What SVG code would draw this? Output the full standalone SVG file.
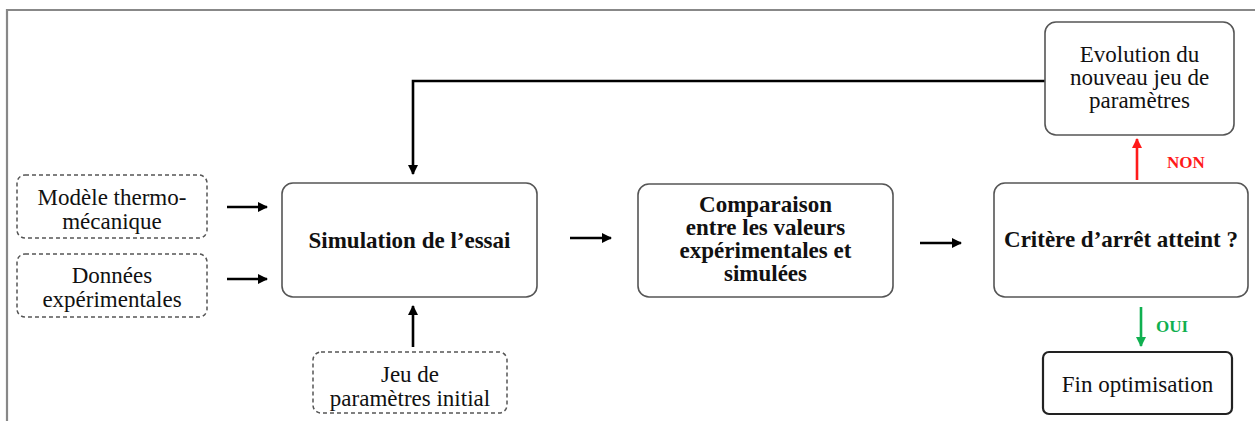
<svg xmlns="http://www.w3.org/2000/svg" width="1255" height="421" viewBox="0 0 1255 421">
<style>
.t{font-family:"Liberation Serif","Times New Roman",serif;font-size:23px;fill:#111;text-anchor:middle}
.b{font-weight:bold}
.box{fill:#fff;stroke:#555;stroke-width:1.6}
.dash{fill:#fff;stroke:#555;stroke-width:1.5;stroke-dasharray:4 3}
.fin{fill:#fff;stroke:#222;stroke-width:2.2}
.c{fill:none;stroke:#000;stroke-width:2.6}
.lbl{font-family:"Liberation Serif","Times New Roman",serif;font-size:17px;font-weight:bold}
</style>
<defs>
<marker id="ah" markerUnits="userSpaceOnUse" markerWidth="12" markerHeight="12" refX="9" refY="5" orient="auto">
<path d="M0,0 L10,5 L0,10 Z" fill="#000"/>
</marker>
<marker id="ahr" markerUnits="userSpaceOnUse" markerWidth="12" markerHeight="12" refX="9" refY="5" orient="auto">
<path d="M0,0 L10,5 L0,10 Z" fill="#ff1a1a"/>
</marker>
<marker id="ahg" markerUnits="userSpaceOnUse" markerWidth="12" markerHeight="12" refX="9" refY="5" orient="auto">
<path d="M0,0 L10,5 L0,10 Z" fill="#10b050"/>
</marker>
</defs>
<rect width="1255" height="421" fill="#fff"/>
<path d="M7,421 V10 H1255" fill="none" stroke="#888" stroke-width="2.2"/>

<g id="connectors">
<line class="c" x1="227" y1="207" x2="267" y2="207" marker-end="url(#ah)"/>
<line class="c" x1="227" y1="279" x2="267" y2="279" marker-end="url(#ah)"/>
<line class="c" x1="413" y1="347" x2="413" y2="306" marker-end="url(#ah)"/>
<polyline class="c" points="1045,81 413,81 413,174" marker-end="url(#ah)"/>
<line class="c" x1="570" y1="238" x2="611" y2="238" marker-end="url(#ah)"/>
<line class="c" x1="920" y1="243" x2="961" y2="243" marker-end="url(#ah)"/>
<line x1="1137" y1="180" x2="1137" y2="139" stroke="#ff1a1a" stroke-width="2.6" marker-end="url(#ahr)"/>
<line x1="1141" y1="307" x2="1141" y2="346" stroke="#10b050" stroke-width="2.6" marker-end="url(#ahg)"/>
<text class="lbl" x="1167" y="168" fill="#ff1a1a">NON</text>
<text class="lbl" x="1156" y="332" fill="#10b050">OUI</text>
</g>

<g id="modele">
<rect class="dash" x="17" y="175" width="190" height="63" rx="8"/>
<text class="t" x="112" y="205">Modèle thermo-</text>
<text class="t" x="112" y="229">mécanique</text>
</g>
<g id="donnees">
<rect class="dash" x="17" y="254" width="190" height="63" rx="8"/>
<text class="t" x="112" y="283">Données</text>
<text class="t" x="112" y="307">expérimentales</text>
</g>
<g id="simulation">
<rect class="box" x="282" y="183" width="255" height="114" rx="11"/>
<text class="t b" x="409.5" y="248">Simulation de l’essai</text>
</g>
<g id="jeu">
<rect class="dash" x="313" y="352" width="194" height="61" rx="8"/>
<text class="t" x="410" y="382">Jeu de</text>
<text class="t" x="410" y="406">paramètres initial</text>
</g>
<g id="comparaison">
<rect class="box" x="638" y="184" width="255" height="113" rx="11"/>
<text class="t b" x="765.5" y="212">Comparaison</text>
<text class="t b" x="765.5" y="235">entre les valeurs</text>
<text class="t b" x="765.5" y="258">expérimentales et</text>
<text class="t b" x="765.5" y="281">simulées</text>
</g>
<g id="critere">
<rect class="box" x="994" y="183" width="254" height="114" rx="11"/>
<text class="t b" x="1121" y="247">Critère d’arrêt atteint ?</text>
</g>
<g id="evolution">
<rect class="box" x="1045" y="22" width="189" height="113" rx="11"/>
<text class="t" x="1139.5" y="62">Evolution du</text>
<text class="t" x="1139.5" y="85">nouveau jeu de</text>
<text class="t" x="1139.5" y="108">paramètres</text>
</g>
<g id="fin">
<rect class="fin" x="1043" y="352" width="189" height="62" rx="6"/>
<text class="t" x="1137.5" y="392">Fin optimisation</text>
</g>
</svg>
